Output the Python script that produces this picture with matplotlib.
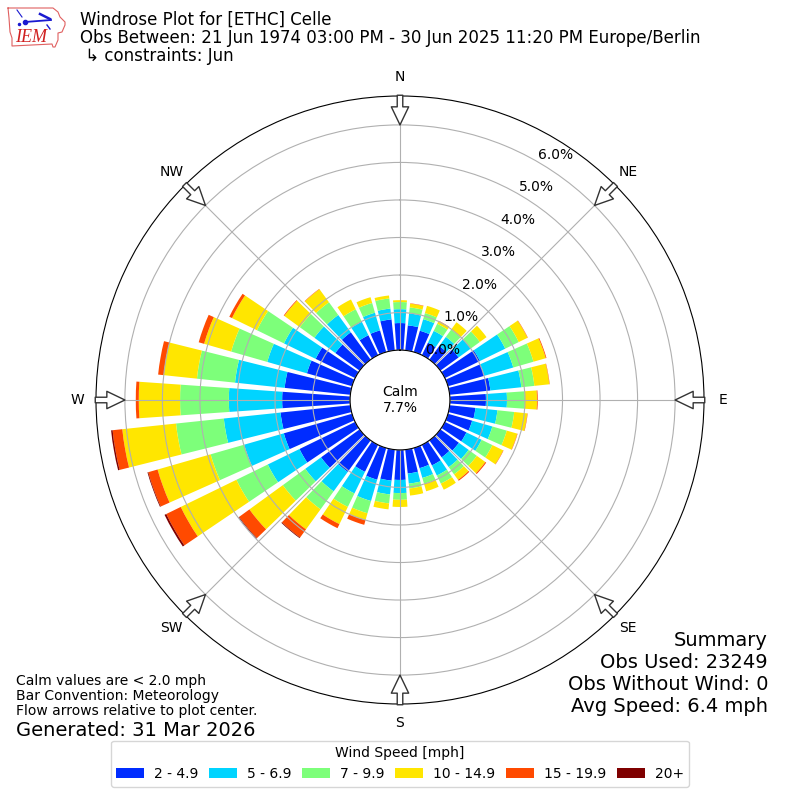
import numpy as np
import matplotlib
matplotlib.use("Agg")
import matplotlib.pyplot as plt

DIRECTIONS = np.arange(0, 360, 10)
SPEED_LABELS = ["2 - 4.9", "5 - 6.9", "7 - 9.9", "10 - 14.9", "15 - 19.9", "20+"]
COLORS = ["#002cff", "#00d4ff", "#7dff7a", "#ffe600", "#ff4a00", "#7f0000"]

# top of each speed band (cumulative percent), one list per direction
blue = [.72, .67, .59, .37, .45, .60, 1.04, 1.01, 1.09, .96, .69, .67, .64, .61, .56, .61, .56, .64,
        .80, .83, .88, .80, 1.04, 1.27, 1.65, 1.89, 1.87, 1.81, 1.76, 1.25, 1.17, .80, .90, .59, .60, .83]
cyan = [1.09, .99, .91, .72, .75, 1.00, 1.79, 1.81, 1.92, 1.52, 1.28, 1.23, 1.09, .93, .88, .91, .83, .91,
        1.15, 1.20, 1.47, 1.44, 1.68, 1.79, 2.59, 2.99, 3.39, 3.23, 3.09, 2.35, 2.11, 1.49, 1.47, .99, 1.09, 1.12]
green = [1.28, 1.15, 1.08, .93, .99, 1.30, 2.19, 2.37, 2.27, 2.00, 1.73, 1.63, 1.41, 1.20, 1.12, 1.15, .99, 1.04,
         1.33, 1.44, 1.81, 1.84, 2.27, 2.53, 3.52, 3.92, 4.67, 4.53, 4.11, 3.35, 2.91, 1.97, 1.89, 1.36, 1.36, 1.39]
yellow = [1.33, 1.25, 1.28, 1.01, 1.23, 1.52, 2.45, 2.71, 2.67, 2.32, 2.08, 1.92, 1.73, 1.48, 1.30, 1.33, 1.20, 1.23,
          1.52, 1.60, 2.00, 2.35, 2.93, 3.63, 5.17, 5.39, 6.11, 5.63, 5.00, 4.10, 3.65, 2.48, 2.32, 1.65, 1.52, 1.47]
orange = [1.33, 1.26, 1.28, 1.02, 1.23, 1.52, 2.46, 2.73, 2.68, 2.34, 2.09, 1.93, 1.74, 1.51, 1.33, 1.33, 1.20, 1.23,
          1.52, 1.60, 2.13, 2.47, 3.20, 3.97, 5.60, 5.65, 6.37, 5.71, 5.15, 4.25, 3.73, 2.50, 2.33, 1.65, 1.52, 1.47]
dark = [1.33, 1.26, 1.28, 1.02, 1.23, 1.52, 2.46, 2.73, 2.68, 2.34, 2.09, 1.93, 1.74, 1.51, 1.33, 1.33, 1.20, 1.23,
        1.52, 1.60, 2.13, 2.47, 3.22, 3.99, 5.65, 5.67, 6.41, 5.71, 5.15, 4.25, 3.73, 2.50, 2.33, 1.65, 1.52, 1.47]

RINGS = [0, 1, 2, 3, 4, 5, 6]
COMPASS = [0, 45, 90, 135, 180, 225, 270, 315]
COMPASS_LABELS = ["N", "NE", "E", "SE", "S", "SW", "W", "NW"]

fig = plt.figure(figsize=(8, 8), dpi=100)
ax = fig.add_axes([0.12, 0.12, 0.76, 0.76], projection="polar")
ax.set_theta_zero_location("N")
ax.set_theta_direction(-1)

# stacked bars, every band starts where the one before stopped
theta = np.deg2rad(DIRECTIONS)
width = np.deg2rad(8)
bottom = np.zeros(36)
for top, color, label in zip([blue, cyan, green, yellow, orange, dark], COLORS, SPEED_LABELS):
    top = np.array(top)
    ax.bar(theta, top - bottom, width=width, bottom=bottom, color=color, label=label)
    bottom = top

ax.set_rorigin(-1.33)
ax.set_ylim(0, 6.77)
ax.set_rticks(RINGS)
ax.set_yticklabels([f"{r:.1f}%" for r in RINGS], fontsize=10)
ax.set_rlabel_position(30)
ax.set_thetagrids(COMPASS, COMPASS_LABELS, fontsize=10)
ax.tick_params(axis="x", pad=3)
ax.grid(True)

# flow arrows point at the plot center
for angle in COMPASS:
    a = np.deg2rad(angle)
    ax.annotate("", xy=(a, 6.0), xytext=(a, 6.79), zorder=5,
                arrowprops=dict(facecolor="white", edgecolor="#333333", lw=1.0,
                                width=4, headwidth=12.5, headlength=13, shrink=0),
                annotation_clip=False)

ax.text(0.5, 0.5, "Calm\n7.7%", transform=ax.transAxes, ha="center", va="center", fontsize=10)

leg = fig.legend(loc="lower center", bbox_to_anchor=(0.5, 0.008), ncol=6,
                 title="Wind Speed [mph]", fontsize=10, columnspacing=0.8, handletextpad=0.7)

fig.text(0.1, 0.9525, "Windrose Plot for [ETHC] Celle\n"
         "Obs Between: 21 Jun 1974 03:00 PM - 30 Jun 2025 11:20 PM Europe/Berlin\n"
         " \u21b3 constraints: Jun", fontsize=12, va="center", linespacing=1.0)
fig.text(0.02, 0.13, "Calm values are < 2.0 mph\nBar Convention: Meteorology\n"
         "Flow arrows relative to plot center.", fontsize=10, va="center", linespacing=1.1)
fig.text(0.02, 0.0875, "Generated: 31 Mar 2026", fontsize=14, va="center")
fig.text(0.96, 0.158, "Summary\nObs Used: 23249\nObs Without Wind: 0\nAvg Speed: 6.4 mph",
         fontsize=14, ha="right", va="center", linespacing=1.2)

# IEM logo, rough version of the state outline with the station model
logo = fig.add_axes([0.00625, 0.93125, 0.08125, 0.0625])
logo.set_xlim(5, 70)
logo.set_ylim(55, 5)
logo.axis("off")
logo.plot([8, 53, 58, 60, 65, 65, 62, 58, 58, 55, 53, 52, 12, 12, 10, 9, 8],
          [8, 8, 12, 17, 22, 25, 32, 33, 40, 47, 47, 44, 46, 38, 32, 18, 8], color="#e06060", lw=0.8)
logo.plot([25, 51], [22, 20], color="#1a1ad0", lw=1.3)
logo.plot([17, 22], [10, 17], color="#1a1ad0", lw=0.8)
logo.plot([40, 50], [14, 19], color="#1a1ad0", lw=1.8)
logo.plot([47, 50], [25, 29], color="#1a1ad0", lw=1.0)
logo.plot([25], [22], "o", color="#1a1ad0", ms=3)
logo.plot([19], [24], "o", color="#1a1ad0", ms=1.5)
logo.text(31, 38, "IEM", color="#d02020", fontsize=13, family="Liberation Serif", style="italic",
          ha="center", va="center")

fig.savefig("out.png", dpi=100)
